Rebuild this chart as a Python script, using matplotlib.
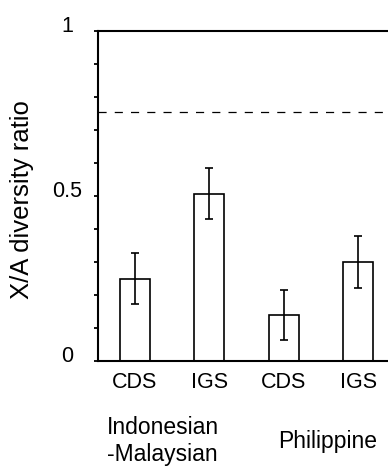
import matplotlib
matplotlib.use("Agg")
import matplotlib.pyplot as plt
import matplotlib.transforms as mtransforms
import numpy as np

plt.rcParams['font.family'] = ['Liberation Sans', 'DejaVu Sans']

categories = ["CDS", "IGS", "CDS", "IGS"]
groups = ["Indonesian\n-Malaysian", "Philippine"]
values = [0.248, 0.506, 0.138, 0.299]
errors = [0.077, 0.077, 0.077, 0.078]
expected_ratio = 0.755

fig = plt.figure(figsize=(3.88, 4.69), dpi=100)
ax = fig.add_axes([97.5/388, 108.5/469, 298/388, 329.5/469])

x = np.arange(len(categories))
ax.bar(x, values, width=0.4, color='white', edgecolor='black', linewidth=1.2, zorder=2)
ax.errorbar(x, values, yerr=errors, fmt='none', ecolor='black', elinewidth=1.2,
            capsize=3, capthick=1.2, zorder=3)
ax.axhline(expected_ratio, color='black', linewidth=0.9, dashes=(6.5, 6.5), zorder=1)

ax.set_xlim(-0.5, 3.5)
ax.set_ylim(0, 1)
ax.set_yticks([0, 0.5, 1])
ax.set_yticklabels(["0", "0.5", "1"])
ax.set_yticks(np.arange(0, 1.01, 0.1), minor=True)
ax.tick_params(axis='y', which='both', direction='out', length=3, width=1.3,
               labelsize=15.5, pad=19)
ax.set_xticks(x)
ax.set_xticklabels(categories)
ax.tick_params(axis='x', length=0, labelsize=15.5, pad=8)

offset = mtransforms.ScaledTranslation(0, 7/100, fig.dpi_scale_trans)
for lab in ax.get_yticklabels():
    lab.set_transform(lab.get_transform() + offset)
    lab.set_horizontalalignment('center')

for s in ['left', 'top', 'bottom']:
    ax.spines[s].set_linewidth(1.5)
ax.spines['right'].set_visible(False)

ax.set_ylabel("X/A diversity ratio", fontsize=18.5)
ax.yaxis.set_label_coords(34/388, 1 - 200/469, transform=fig.transFigure)

trans = mtransforms.blended_transform_factory(ax.transData, fig.transFigure)
ax.text((163 - 135) / 74.5, 1 - 441/469, groups[0], transform=trans, ha='center',
        va='center', fontsize=16.5, multialignment='center', linespacing=1.2)
ax.text((328 - 135) / 74.5, 1 - 441/469, groups[1], transform=trans, ha='center',
        va='center', fontsize=16.5)

fig.savefig("out.png", dpi=100)
